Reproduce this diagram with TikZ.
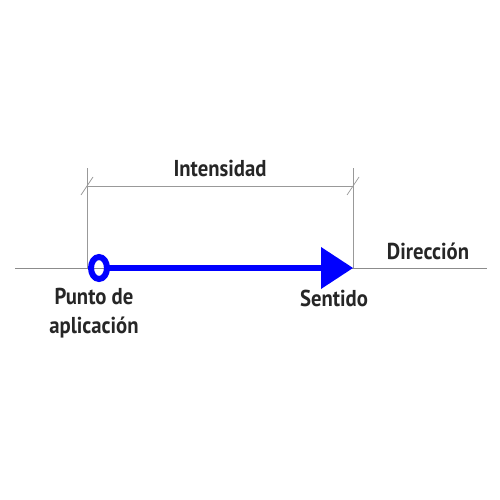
\documentclass[tikz,border=0pt]{standalone}
\usepackage{fontspec}
\setmainfont{PT Sans}
\usetikzlibrary{arrows.meta}
\begin{document}
\begin{tikzpicture}[x=1pt,y=-1pt,
  lbl/.style={font=\fontsize{23}{26}\selectfont\bfseries, text=black!85, inner sep=0pt, align=center, xscale=0.9},
  thinline/.style={draw=black!45, line width=0.9pt},
  dimline/.style={draw=black!40, line width=0.7pt},
  vec/.style={draw=blue, line width=6pt}]
\useasboundingbox (0,0) rectangle (500,500);
\coordinate (L) at (15,268);
\coordinate (R) at (487,268);
\coordinate (A) at (99,268);
\coordinate (B) at (353,268);
\coordinate (At) at (87,168);
\coordinate (Bt) at (353,168);
\coordinate (Ad) at (87,186);
\coordinate (Bd) at (353,186);
\draw[thinline] (L) -- (R);
\draw[dimline] (At) -- (87,268);
\draw[dimline] (Bt) -- (B);
\draw[dimline] (Ad) -- (Bd);
\draw[dimline] ([shift={(-6,9)}]Ad) -- ([shift={(6,-9)}]Ad);
\draw[dimline] ([shift={(-6,9)}]Bd) -- ([shift={(6,-9)}]Bd);
\draw[vec] (106,268) -- (324,268);
\fill[blue] (B) -- (321,247) -- (321,289) -- cycle;
\draw[blue, line width=6pt] (A) ellipse [x radius=8, y radius=11];
\node[lbl] (int) at (220,168) {Intensidad};
\node[lbl] (dir) at (428,251) {Dirección};
\node[lbl] (sen) at (334,298) {Sentido};
\node[lbl] (pun) at (94,313) {Punto de\\[3pt]aplicación};
\end{tikzpicture}
\end{document}
